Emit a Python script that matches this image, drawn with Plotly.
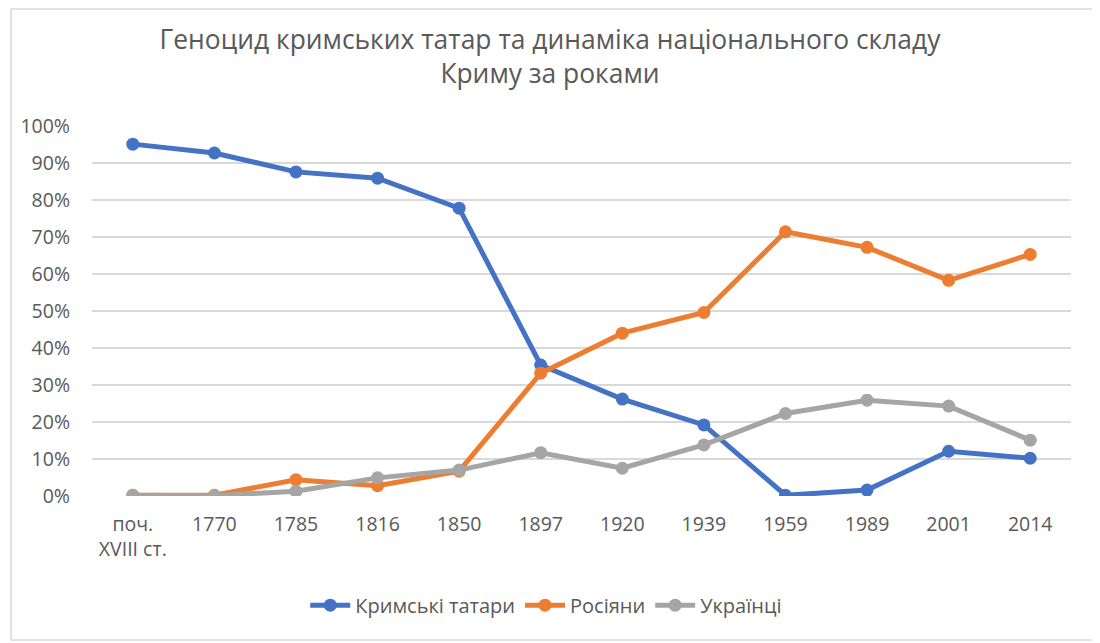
import plotly.graph_objects as go

# Data
years = ["поч.<br>XVIII ст.", "1770", "1785", "1816", "1850", "1897",
         "1920", "1939", "1959", "1989", "2001", "2014"]
tatars = [95.1, 92.7, 87.6, 85.9, 77.8, 35.4, 26.2, 19.2, 0.2, 1.6, 12.1, 10.2]
russians = [0.2, 0.2, 4.4, 2.8, 6.7, 33.2, 44.0, 49.6, 71.4, 67.2, 58.3, 65.3]
ukrainians = [0.2, 0.1, 1.3, 4.9, 7.0, 11.7, 7.5, 13.8, 22.3, 25.9, 24.3, 15.1]

series = [
    ("Кримські татари", tatars, "#4472C4"),
    ("Росіяни", russians, "#ED7D31"),
    ("Українці", ukrainians, "#A5A5A5"),
]

fig = go.Figure()
for name, vals, color in series:
    fig.add_trace(go.Scatter(
        x=years, y=vals, name=name, mode="lines+markers",
        line=dict(color=color, width=5),
        marker=dict(color=color, size=13),
    ))

fig.update_layout(
    width=1100, height=643,
    paper_bgcolor="white", plot_bgcolor="white",
    font=dict(family="Open Sans", color="#595959", size=19),
    title=dict(
        text="Геноцид кримських татар та динаміка національного складу<br>Криму за роками",
        x=0.4927, xanchor="center", y=0.937, yanchor="top",
        font=dict(size=26.4, color="#595959"),
    ),
    margin=dict(l=82, r=37, t=118, b=155),
    legend=dict(orientation="h", x=0.464, xanchor="center", y=-0.295, yanchor="middle",
                font=dict(size=20), itemwidth=40),
    showlegend=True,
)
fig.update_xaxes(showgrid=False, showline=False, ticks="", type="category",
                 range=[-0.5, 11.5], tickfont=dict(size=19.5), ticklabelstandoff=14)
fig.update_yaxes(range=[0, 100], dtick=10, ticksuffix="%", gridcolor="#D9D9D9",
                 gridwidth=1.5, zeroline=False, tickfont=dict(size=19.5),
                 ticklabelstandoff=21)
fig.add_shape(type="rect", xref="paper", yref="paper", x0=-0.0826, x1=1.0265,
              y0=-0.389, y1=1.316, line=dict(color="#D9D9D9", width=1.5))

fig.write_html("out.html")
